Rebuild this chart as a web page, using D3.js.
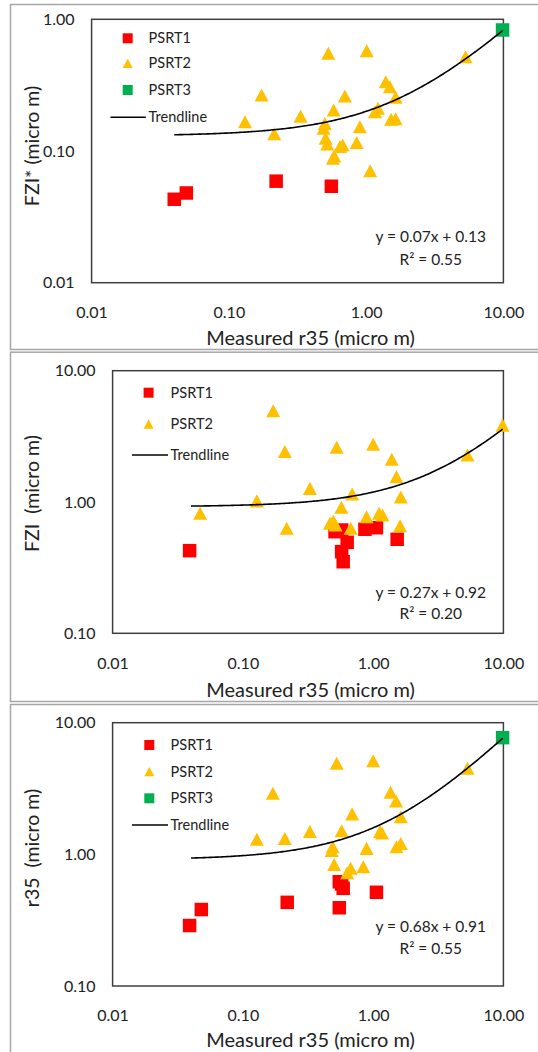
<!DOCTYPE html>
<html>
<head>
<meta charset="utf-8">
<script src="https://cdn.jsdelivr.net/npm/d3@7"></script>
<style>
  html, body { margin: 0; padding: 0; background: #fff; }
  svg { display: block; font-family: Lato, "Open Sans", sans-serif; }
</style>
</head>
<body>
<svg id="chart" width="538" height="1052"></svg>
<script>
// ---- Data (x = measured r35, micro m) ----
const xTicks = [0.01, 0.1, 1, 10];

// Panel 1: FZI* vs measured r35
const fziStarPsrt1 = [[0.040, 0.043], [0.049, 0.048], [0.221, 0.059], [0.558, 0.054]];
const fziStarPsrt2 = [
  [0.53, 0.552], [1.01, 0.578], [5.3, 0.520], [1.39, 0.336], [1.49, 0.308], [1.64, 0.256],
  [0.173, 0.266], [0.70, 0.262], [0.58, 0.205], [1.22, 0.211], [1.16, 0.199], [0.131, 0.167],
  [0.333, 0.184], [0.214, 0.135], [0.50, 0.162], [0.49, 0.149], [0.90, 0.153], [1.52, 0.174],
  [1.64, 0.176], [0.507, 0.125], [0.52, 0.113], [0.675, 0.111], [0.645, 0.108], [0.853, 0.116],
  [0.586, 0.0916], [0.573, 0.088], [1.07, 0.0708]
];
const fziStarPsrt3 = [[9.86, 0.83]];
const fziStarFit = { slope: 0.07, intercept: 0.13, r2: 0.55, from: 0.04, to: 9.86 };
const fziStarYTicks = [0.01, 0.1, 1];

// Panel 2: FZI vs measured r35
const fziPsrt1 = [
  [0.039, 0.426], [0.51, 0.594], [0.573, 0.612], [0.632, 0.493], [0.573, 0.419],
  [0.589, 0.351], [0.865, 0.620], [1.06, 0.637], [1.53, 0.520]
];
const fziPsrt2 = [
  [0.171, 4.96], [0.21, 2.42], [0.525, 2.61], [1.0, 2.75], [1.39, 2.12], [1.51, 1.56],
  [5.3, 2.28], [9.86, 3.85], [0.327, 1.27], [0.128, 1.02], [0.69, 1.15], [1.63, 1.09],
  [0.047, 0.82], [0.57, 0.912], [0.217, 0.631], [0.494, 0.717], [0.466, 0.689], [0.515, 0.668],
  [0.672, 0.631], [0.89, 0.773], [1.11, 0.82], [1.18, 0.797], [1.61, 0.660]
];
const fziFit = { slope: 0.27, intercept: 0.92, r2: 0.20, from: 0.04, to: 9.86 };
const fziYTicks = [0.1, 1, 10];

// Panel 3: r35 vs measured r35
const r35Psrt1 = [
  [0.039, 0.288], [0.048, 0.381], [0.219, 0.432], [0.55, 0.393], [1.06, 0.515],
  [0.573, 0.596], [0.589, 0.552], [0.55, 0.619]
];
const r35Psrt2 = [
  [0.525, 4.92], [1.0, 5.14], [5.3, 4.51], [0.17, 2.91], [1.36, 2.96], [1.50, 2.54],
  [1.63, 1.93], [0.69, 2.03], [0.327, 1.49], [0.573, 1.51], [1.13, 1.49], [1.17, 1.45],
  [0.128, 1.30], [0.21, 1.32], [0.489, 1.14], [0.48, 1.07], [0.89, 1.11], [1.63, 1.21],
  [1.51, 1.14], [0.502, 0.839], [0.672, 0.783], [0.632, 0.726], [0.84, 0.805]
];
const r35Psrt3 = [[9.86, 7.7]];
const r35Fit = { slope: 0.68, intercept: 0.91, r2: 0.55, from: 0.04, to: 9.86 };
const r35YTicks = [0.1, 1, 10];

const xTitle = "Measured r35 (micro m)";

// ---- Styling ----
const COLORS = { PSRT1: "#FF0000", PSRT2: "#FFC000", PSRT3: "#00B050" };
const TEXT = "#222";

const panels = [
  {
    yTitle: "FZI* (micro m)", yTicks: fziStarYTicks, fit: fziStarFit,
    series: [["PSRT1", fziStarPsrt1, "square"], ["PSRT2", fziStarPsrt2, "triangle"], ["PSRT3", fziStarPsrt3, "square"]],
    frame: { y: 4, h: 346 },
    plot: { l: 91.6, t: 19.3, r: 503.4, b: 282.7 },
    legend: { mx: 127.7, tx: 148.6, rows: [38.3, 63.3, 90, 117.3], line: [110.5, 145.8] },
    eq: [236.7, 259.3], yTitleY: 146, xTitleY: 338.3
  },
  {
    yTitle: "FZI  (micro m)", yTicks: fziYTicks, fit: fziFit,
    series: [["PSRT1", fziPsrt1, "square"], ["PSRT2", fziPsrt2, "triangle"]],
    frame: { y: 351.7, h: 350.3 },
    plot: { l: 112.6, t: 370.7, r: 503.4, b: 633.3 },
    legend: { mx: 148.6, tx: 170.6, rows: [392.7, 424, 455], line: [132, 168] },
    eq: [592.7, 614], yTitleY: 493.5, xTitleY: 690
  },
  {
    yTitle: "r35  (micro m)", yTicks: r35YTicks, fit: r35Fit,
    series: [["PSRT1", r35Psrt1, "square"], ["PSRT2", r35Psrt2, "triangle"], ["PSRT3", r35Psrt3, "square"]],
    frame: { y: 704, h: 360 },
    plot: { l: 112.6, t: 722.7, r: 503.4, b: 986 },
    legend: { mx: 149.3, tx: 170.6, rows: [745, 771.7, 798.3, 825], line: [132, 168] },
    eq: [926.7, 948.3], yTitleY: 848, xTitleY: 1040
  }
];

const svg = d3.select("#chart");
const fmt = d3.format(".2f");

function markerPath(shape, size) {
  if (shape === "triangle") {
    const w = size, h = size * 0.93;
    return `M0,${-h / 2}L${w / 2},${h / 2}L${-w / 2},${h / 2}Z`;
  }
  const s = size / 2;
  return `M${-s},${-s}H${s}V${s}H${-s}Z`;
}

panels.forEach(p => {
  const g = svg.append("g");

  // outer chart frame
  g.append("rect")
    .attr("x", 10.5).attr("y", p.frame.y + 0.5)
    .attr("width", 540).attr("height", p.frame.h - 1)
    .attr("fill", "#fff").attr("stroke", "#a6a6a6").attr("stroke-width", 1.5);

  const x = d3.scaleLog().domain([0.01, 10]).range([p.plot.l, p.plot.r]);
  const y = d3.scaleLog().domain([p.yTicks[0], p.yTicks[p.yTicks.length - 1]]).range([p.plot.b, p.plot.t]);

  // axes (labels only)
  const xAxis = g.append("g")
    .attr("transform", `translate(0,${p.plot.b})`)
    .call(d3.axisBottom(x).tickValues(xTicks).tickFormat(fmt).tickSize(0).tickPadding(24));
  const yAxis = g.append("g")
    .attr("transform", `translate(${p.plot.l},0)`)
    .call(d3.axisLeft(y).tickValues(p.yTicks).tickFormat(fmt).tickSize(0).tickPadding(17));
  [xAxis, yAxis].forEach(a => {
    a.select(".domain").remove();
    a.selectAll("text").attr("font-size", 16).attr("font-family", "Lato, sans-serif").attr("fill", TEXT);
  });

  // plot area border
  g.append("rect")
    .attr("x", p.plot.l).attr("y", p.plot.t)
    .attr("width", p.plot.r - p.plot.l).attr("height", p.plot.b - p.plot.t)
    .attr("fill", "none").attr("stroke", "#3f3f3f").attr("stroke-width", 1.5);

  // markers
  p.series.forEach(([name, pts, shape]) => {
    g.append("g").selectAll("path").data(pts).join("path")
      .attr("d", markerPath(shape, shape === "triangle" ? 14 : 13.5))
      .attr("transform", d => `translate(${x(d[0])},${y(d[1])})`)
      .attr("fill", COLORS[name]);
  });

  // linear trendline y = slope * x + intercept, drawn on the log axes
  const f = p.fit;
  const xs = d3.range(0, 201).map(i => Math.exp(Math.log(f.from) + (Math.log(f.to) - Math.log(f.from)) * i / 200));
  g.append("path")
    .datum(xs)
    .attr("d", d3.line().x(v => x(v)).y(v => y(f.slope * v + f.intercept)))
    .attr("fill", "none").attr("stroke", "#000").attr("stroke-width", 1.6);

  // legend
  const lg = p.legend;
  p.series.forEach(([name, , shape], i) => {
    g.append("path")
      .attr("d", markerPath(shape, 10))
      .attr("transform", `translate(${lg.mx},${lg.rows[i]})`)
      .attr("fill", COLORS[name]);
    g.append("text").attr("x", lg.tx).attr("y", lg.rows[i]).attr("dy", "0.35em")
      .attr("font-size", 14.5).attr("fill", TEXT).text(name);
  });
  const ly = lg.rows[p.series.length];
  g.append("line").attr("x1", lg.line[0]).attr("x2", lg.line[1]).attr("y1", ly).attr("y2", ly)
    .attr("stroke", "#000").attr("stroke-width", 1.4);
  g.append("text").attr("x", lg.tx).attr("y", ly).attr("dy", "0.35em")
    .attr("font-size", 14.5).attr("fill", TEXT).text("Trendline");

  // equation and R²
  g.append("text").attr("x", 430.7).attr("y", p.eq[0]).attr("dy", "0.35em").attr("text-anchor", "middle")
    .attr("font-size", 15.5).attr("fill", TEXT)
    .text(`y = ${fmt(f.slope)}x + ${fmt(f.intercept)}`);
  g.append("text").attr("x", 430.7).attr("y", p.eq[1]).attr("dy", "0.35em").attr("text-anchor", "middle")
    .attr("font-size", 15.5).attr("fill", TEXT)
    .text(`R² = ${fmt(f.r2)}`);

  // axis titles
  g.append("text").attr("x", 310.6).attr("y", p.xTitleY).attr("dy", "0.35em").attr("text-anchor", "middle")
    .attr("font-size", 20).attr("fill", TEXT).text(xTitle);
  g.append("text")
    .attr("transform", `translate(32.6,${p.yTitleY}) rotate(-90)`)
    .attr("dy", "0.35em").attr("text-anchor", "middle")
    .attr("font-size", 19.5).attr("fill", TEXT)
    .style("white-space", "pre")
    .text(p.yTitle);
});
</script>
</body>
</html>
